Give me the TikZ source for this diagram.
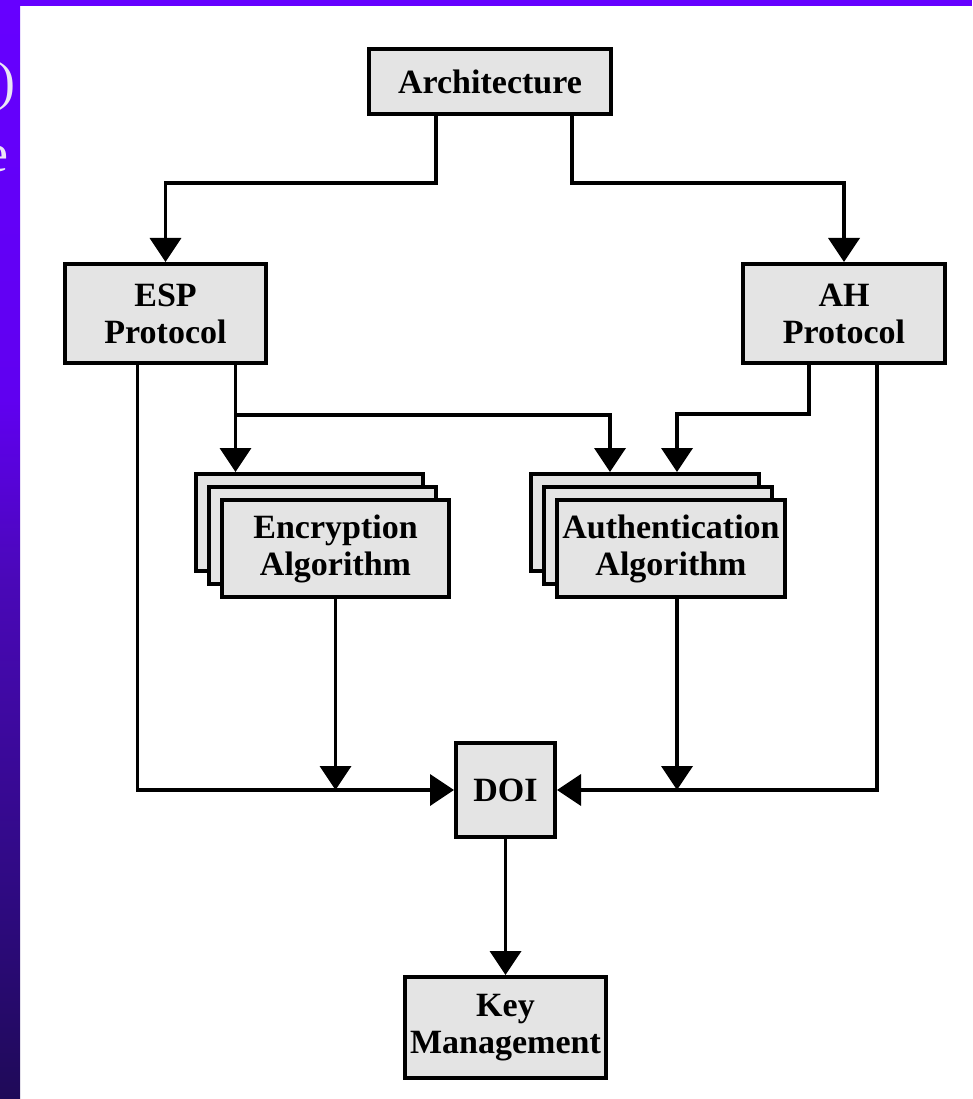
\documentclass[tikz,border=0pt]{standalone}
\usepackage{fontspec}
\setmainfont{Liberation Serif}
\usetikzlibrary{arrows.meta,calc}

\definecolor{boxgrey}{HTML}{E4E4E4}
\definecolor{slidetop}{HTML}{6600FF}
\definecolor{sbA}{HTML}{1F0A58}
\definecolor{sbB}{HTML}{2E0A80}
\definecolor{sbC}{HTML}{4A08B8}
\definecolor{sbD}{HTML}{6000F0}
\definecolor{sbE}{HTML}{6600FF}
\definecolor{slidetext}{HTML}{ECE6F6}

% side bar of the slide: bright violet fading to dark indigo
\pgfdeclareverticalshading{sidebar}{100bp}{color(0bp)=(sbA); color(25bp)=(sbA);
  color(34bp)=(sbB); color(48.6bp)=(sbC); color(56.8bp)=(sbD);
  color(75bp)=(sbE); color(100bp)=(sbE)}

\begin{document}
\begin{tikzpicture}[x=1pt,y=-1pt,
  blk/.style={draw=black,fill=boxgrey,line width=4pt,inner sep=0pt,
    align=center,font=\fontsize{34}{37}\selectfont\bfseries},
  wire/.style={line width=3.8pt,line join=miter},
  arr/.style={wire,-{Triangle[length=24pt,width=31pt]}}]

\useasboundingbox (0,0) rectangle (972,1099);

% slide background
\fill[white] (0,0) rectangle (972,1099);
\fill[slidetop] (0,0) rectangle (972,6);
\shade[shading=sidebar] (0,0) rectangle (20,1099);
\begin{scope}
  \clip (0,0) rectangle (20,1099);
  \node[anchor=base east,inner sep=0pt,text=slidetext,font=\fontsize{54}{60}\selectfont] (par) at (16,100) {)};
  \node[anchor=base east,inner sep=0pt,text=slidetext,font=\fontsize{54}{60}\selectfont] (elet) at (9,172) {e};
\end{scope}

% boxes
\node[blk,minimum width=242pt,minimum height=65pt] (arch) at (490,81.5) {Architecture};
\node[blk,minimum width=201pt,minimum height=99pt] (esp) at (165.5,313.5) {ESP\\Protocol};
\node[blk,minimum width=202pt,minimum height=99pt] (ah) at (844,313.5) {AH\\Protocol};

\node[blk,minimum width=227pt,minimum height=97pt] (enc3) at (309.5,522.5) {};
\node[blk,minimum width=227pt,minimum height=97pt] (enc2) at (322.5,535.5) {};
\node[blk,minimum width=227pt,minimum height=97pt] (enc1) at (335.5,548.5) {Encryption\\Algorithm};

\node[blk,minimum width=228pt,minimum height=97pt] (auth3) at (645,522.5) {};
\node[blk,minimum width=228pt,minimum height=97pt] (auth2) at (658,535.5) {};
\node[blk,minimum width=228pt,minimum height=97pt] (auth1) at (671,548.5) {Authentication\\Algorithm};

\node[blk,minimum width=99pt,minimum height=94pt] (doi) at (505.5,790) {DOI};
\node[blk,minimum width=201pt,minimum height=101pt] (km) at (505.5,1027.5) {Key\\Management};

% connectors
\draw[arr] ([xshift=-54pt]arch.south) -- ++(0,67) -| (esp.north);
\draw[arr] ([xshift=82pt]arch.south) -- ++(0,67) -| (ah.north);

\coordinate (espR) at ([xshift=70pt]esp.south);
\draw[arr] (espR) -- (espR |- enc3.north);
\draw[arr] ($(espR)+(0,50)$) -| ([xshift=-35pt]auth3.north);
\draw[arr] ([xshift=-35pt]ah.south) -- ++(0,49) -| ([xshift=32pt]auth3.north);

\draw[arr] ([xshift=-28pt]esp.south) |- (doi.west);
\draw[arr] ([xshift=33pt]ah.south) |- (doi.east);
\draw[arr] (enc1.south) -- (enc1.south |- doi.west);
\draw[arr] ([xshift=6pt]auth1.south) -- ([xshift=6pt]auth1.south |- doi.east);

\draw[arr] (doi.south) -- (km.north);
\end{tikzpicture}
\end{document}
